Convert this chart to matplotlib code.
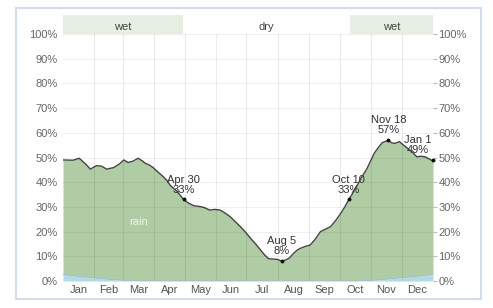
import matplotlib
matplotlib.use("Agg")
import matplotlib.pyplot as plt
import numpy as np
from matplotlib.patches import Rectangle

plt.rcParams['font.family'] = ['Liberation Sans', 'DejaVu Sans']

# Data: day of year (0 = Jan 1) and chance of rain (%)
days = [0, 10, 16, 22, 27, 33, 38, 43, 50, 56, 60, 64, 69, 74, 78, 81, 85, 89, 94, 99, 103,
        106, 112, 119, 124, 129, 134, 139, 145, 150, 155, 160, 165, 170, 175, 180, 185, 190,
        195, 199, 203, 207, 211, 216, 220, 223, 227, 231, 234, 239, 244, 249, 254, 259, 264,
        269, 274, 278, 282, 288, 294, 300, 307, 311, 315, 321, 324, 327, 332, 336, 340, 345,
        349, 353, 357, 361, 365]
rain = [49.0, 48.9, 49.7, 47.5, 45.3, 46.7, 46.5, 45.3, 45.9, 47.5, 49.0, 48.0, 48.5, 49.7,
        48.7, 47.7, 47.0, 45.9, 44.0, 42.2, 40.5, 38.6, 36.5, 33.0, 31.5, 30.5, 30.2, 29.8,
        28.7, 29.0, 28.7, 27.5, 26.0, 24.0, 22.0, 19.8, 17.3, 15.0, 12.5, 10.5, 9.0, 8.9,
        8.8, 8.0, 8.6, 9.2, 11.0, 12.5, 13.2, 14.0, 14.6, 17.0, 20.0, 21.0, 22.0, 24.5, 27.4,
        30.0, 33.0, 37.0, 41.6, 45.6, 51.7, 54.0, 56.0, 57.0, 56.0, 55.7, 56.4, 55.0, 53.7,
        52.0, 50.3, 50.5, 50.3, 49.5, 48.5]
snow_days = [0, 15, 30, 45, 60, 75, 290, 305, 320, 335, 350, 365]
snow = [2.6, 1.9, 1.3, 0.7, 0.3, 0.0, 0.0, 0.3, 0.8, 1.4, 2.0, 2.6]

months = ['Jan', 'Feb', 'Mar', 'Apr', 'May', 'Jun', 'Jul', 'Aug', 'Sep', 'Oct', 'Nov', 'Dec']
month_starts = [0, 31, 59, 90, 120, 151, 181, 212, 243, 273, 304, 334, 365]
seasons = [('wet', 0, 118), ('dry', 118, 283), ('wet', 283, 365)]
annotations = [(119, 33, 'Apr 30\n33%', 0), (216, 8, 'Aug 5\n8%', 0),
               (282, 33, 'Oct 10\n33%', 0), (321, 57, 'Nov 18\n57%', 0),
               (365, 49, 'Jan 1\n49%', -11)]

W, H = 493, 308
fig = plt.figure(figsize=(W / 100, H / 100), dpi=100)
fig.patch.set_facecolor('white')

# outer frame
fig.patches.append(Rectangle((16 / W, 1 - 299 / H), (481 - 16) / W, (299 - 8) / H,
                             transform=fig.transFigure, fill=False,
                             edgecolor='#d3ddee', lw=1.5))

L, R, T, B = 63, 433, 34, 281
ax = fig.add_axes([L / W, 1 - B / H, (R - L) / W, (B - T) / H])
ax.set_xlim(0, 365)
ax.set_ylim(0, 100)

d = np.array(days, float)
r = np.array(rain, float)
s = np.interp(d, snow_days, snow)

ax.fill_between(d, s, r, color='#b0cca5', lw=0, zorder=1)
ax.fill_between(d, 0, s, color='#b0dbe3', lw=0, zorder=1)
ax.plot(snow_days, snow, color='#aab5de', lw=0.6, zorder=2)
ax.plot(d, r, color='#444444', lw=1.0, zorder=3)

# grid on top
for m in month_starts[1:-1]:
    ax.axvline(m, color=(0, 0, 0, 0.08), lw=0.8, zorder=4)
for y in range(10, 101, 10):
    ax.axhline(y, color=(0, 0, 0, 0.06), lw=0.8, zorder=4)

for sp in ax.spines.values():
    sp.set_visible(False)

ax.set_yticks(range(0, 101, 10))
ax.set_yticklabels([f'{v}%' for v in range(0, 101, 10)])
ax.tick_params(axis='y', which='both', left=False, right=True, labelleft=True,
               labelright=True, length=3, color='#bbbbbb', labelsize=8,
               labelcolor='#666666', pad=1)
mid = [(month_starts[i] + month_starts[i + 1]) / 2 for i in range(12)]
ax.set_xticks(mid)
ax.set_xticklabels(months)
ax.tick_params(axis='x', length=0, labelsize=8, labelcolor='#555555', pad=3)

ax.text(75, 24, 'rain', color='#eef5ea', fontsize=8, ha='center', va='center', zorder=5)

for x, y, txt, dx in annotations:
    ax.plot([x], [y], 'o', color='#111111', ms=1.8, zorder=6, clip_on=False)
    ax.annotate(txt, (x, y), xytext=(dx, 3.5), textcoords='offset points',
                ha='center', va='bottom', fontsize=8, color='#333333',
                linespacing=1.0, zorder=6, annotation_clip=False)

# season bands above plot
for name, a, b in seasons:
    if name == 'wet':
        ax.add_patch(Rectangle((a, 100), b - a, 19 / 2.47, transform=ax.transData,
                               facecolor='#e7eee2', edgecolor='none', clip_on=False, zorder=0))
    ax.text((a + b) / 2, 100 + 7.5 / 2.47, name, ha='center', va='center', fontsize=8,
            color='#444444', clip_on=False)

fig.savefig('out.png', dpi=100)
